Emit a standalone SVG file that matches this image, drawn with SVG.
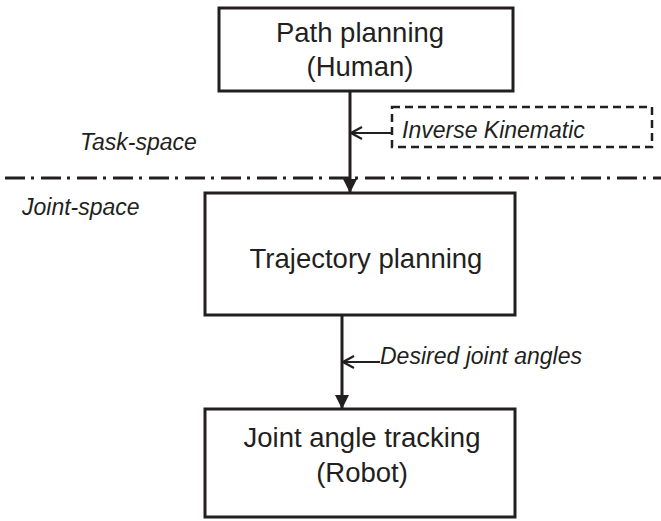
<svg xmlns="http://www.w3.org/2000/svg" width="661" height="521" viewBox="0 0 661 521">
  <style>
    .box { fill: #ffffff; stroke: #231f20; stroke-width: 3; }
    .lbl { font-family: "Liberation Sans", Arial, sans-serif; font-size: 27.5px; fill: #231f20; text-anchor: middle; }
    .it { font-family: "Liberation Sans", Arial, sans-serif; font-size: 23px; font-style: italic; fill: #231f20; }
    .wire { stroke: #231f20; stroke-width: 3; fill: none; }
    .thin { stroke: #231f20; stroke-width: 2.2; fill: none; }
  </style>
  <defs>
    <marker id="solid" markerWidth="15" markerHeight="15" refX="14" refY="7" orient="auto" markerUnits="userSpaceOnUse">
      <path d="M0,0 L14,7 L0,14 Z" fill="#231f20"/>
    </marker>
    <marker id="open" markerWidth="14" markerHeight="16" refX="12" refY="7" orient="auto" markerUnits="userSpaceOnUse">
      <path d="M1,1 L12,7 L1,13" fill="none" stroke="#231f20" stroke-width="2.2"/>
    </marker>
  </defs>

  <!-- space divider -->
  <line x1="5" y1="178" x2="661" y2="178" stroke="#231f20" stroke-width="3" stroke-dasharray="20 6 3 7"/>
  <text class="it" x="80" y="150">Task-space</text>
  <text class="it" x="22" y="215">Joint-space</text>

  <g id="path-planning">
    <rect class="box" x="219" y="8" width="294" height="83"/>
    <text class="lbl" x="360" y="42">Path planning</text>
    <text class="lbl" x="360" y="76">(Human)</text>
  </g>

  <g id="inverse-kinematic">
    <rect x="392" y="107" width="260" height="40" fill="none" stroke="#231f20" stroke-width="2.5" stroke-dasharray="8 5"/>
    <text class="it" x="402" y="138">Inverse Kinematic</text>
  </g>

  <g id="trajectory-planning">
    <rect class="box" x="205" y="193" width="310" height="122"/>
    <text class="lbl" x="366" y="268">Trajectory planning</text>
  </g>

  <g id="joint-angle-tracking">
    <rect class="box" x="205" y="409" width="310" height="108"/>
    <text class="lbl" x="362" y="447">Joint angle tracking</text>
    <text class="lbl" x="362" y="482">(Robot)</text>
  </g>

  <g id="desired-angles-label">
    <text class="it" x="380" y="364">Desired joint angles</text>
  </g>

  <g id="connectors">
    <line class="wire" x1="350" y1="91" x2="350" y2="193" marker-end="url(#solid)"/>
    <line class="wire" x1="342" y1="315" x2="342" y2="409" marker-end="url(#solid)"/>
    <line class="thin" x1="392" y1="133" x2="351" y2="133" marker-end="url(#open)"/>
    <line class="thin" x1="380" y1="362" x2="343" y2="362" marker-end="url(#open)"/>
  </g>
</svg>
